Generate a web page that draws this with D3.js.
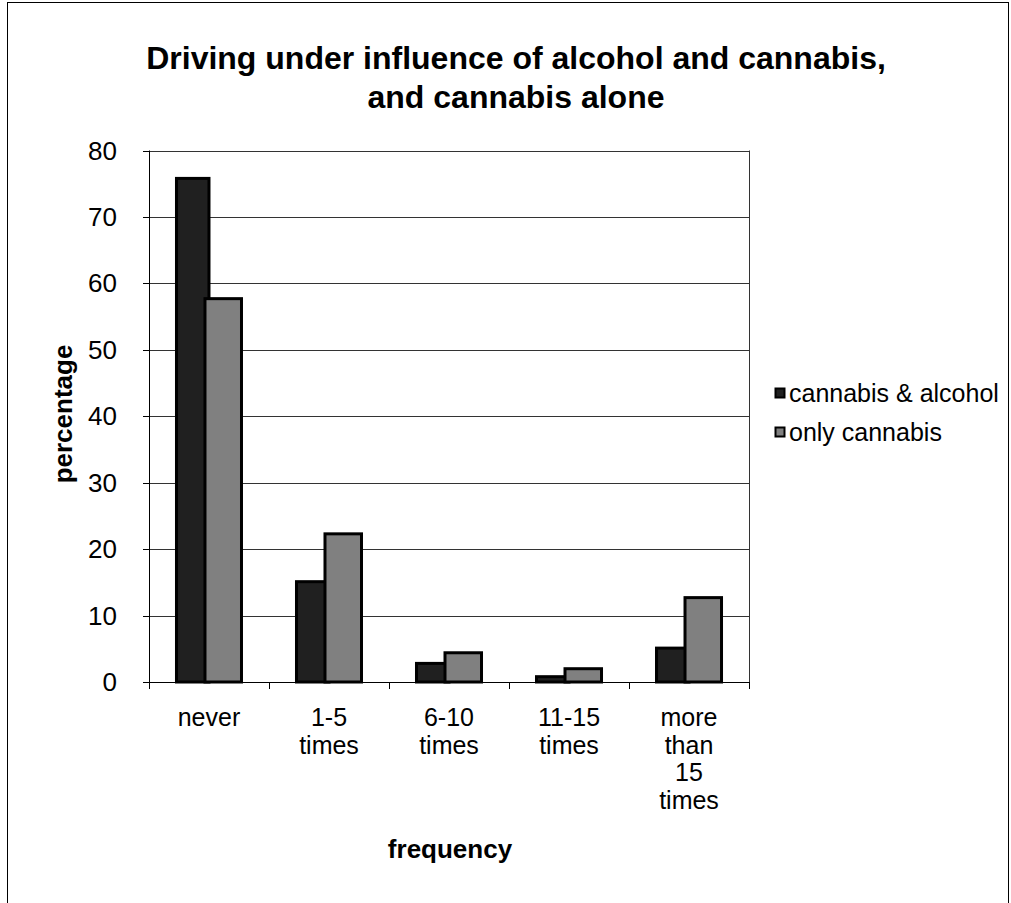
<!DOCTYPE html>
<html>
<head>
<meta charset="utf-8">
<script src="https://cdn.jsdelivr.net/npm/d3@7"></script>
<style>
  html, body { margin: 0; padding: 0; background: #fff; }
  svg { display: block; font-family: "Liberation Sans", Arial, sans-serif; }
</style>
</head>
<body>
<svg id="chart" width="1011" height="903"></svg>
<script>
// Survey data: how often respondents drove under the influence
const categories = ["never", "1-5 times", "6-10 times", "11-15 times", "more than 15 times"];
const categoryLines = [["never"], ["1-5", "times"], ["6-10", "times"], ["11-15", "times"], ["more", "than", "15", "times"]];
const seriesNames = ["cannabis & alcohol", "only cannabis"];
const cannabisAlcohol = [75.8, 15.1, 2.8, 0.8, 5.1];
const onlyCannabis = [57.7, 22.3, 4.4, 2.0, 12.7];
const seriesColors = ["#202020", "#808080"];
const yTicks = [0, 10, 20, 30, 40, 50, 60, 70, 80];

const svg = d3.select("#chart");
const plot = { left: 149, right: 749, top: 150.5, bottom: 682 };

// outer frame
svg.append("rect")
  .attr("x", 7.5).attr("y", 2.5).attr("width", 1001).attr("height", 910)
  .attr("fill", "none").attr("stroke", "#000").attr("stroke-width", 1);

const x0 = d3.scaleBand()
  .domain(categories)
  .range([plot.left, plot.right])
  .paddingInner(0.4583)
  .paddingOuter(0.229);

const x1 = d3.scaleBand()
  .domain(seriesNames)
  .range([0, x0.bandwidth()]);

const y = d3.scaleLinear().domain([0, 80]).range([plot.bottom, plot.top]);

// horizontal gridlines
svg.append("g").selectAll("line")
  .data(yTicks.filter(d => d > 0))
  .join("line")
  .attr("x1", plot.left).attr("x2", plot.right)
  .attr("y1", d => Math.round(y(d)) + 0.5).attr("y2", d => Math.round(y(d)) + 0.5)
  .attr("stroke", "#333").attr("stroke-width", 1);

// right edge of plot area
svg.append("line")
  .attr("x1", plot.right + 0.5).attr("x2", plot.right + 0.5)
  .attr("y1", y(80)).attr("y2", y(0))
  .attr("stroke", "#333");

// bars
const rows = categories.map((c, i) => ({ cat: c, values: [cannabisAlcohol[i], onlyCannabis[i]] }));
const overlap = 4;
const groups = svg.append("g").selectAll("g")
  .data(rows)
  .join("g")
  .attr("transform", d => `translate(${x0(d.cat)},0)`);

groups.selectAll("rect")
  .data(d => d.values.map((v, k) => ({ series: seriesNames[k], k, v })))
  .join("rect")
  .attr("x", d => x1(d.series) - (d.k === 1 ? overlap : 0))
  .attr("width", d => x1.bandwidth() + (d.k === 1 ? overlap : 0))
  .attr("y", d => y(d.v))
  .attr("height", d => y(0) - y(d.v))
  .attr("fill", d => seriesColors[d.k])
  .attr("stroke", "#000")
  .attr("stroke-width", 3);

// y axis
const yAxis = svg.append("g");
yAxis.append("line")
  .attr("x1", plot.left + 0.5).attr("x2", plot.left + 0.5)
  .attr("y1", y(80)).attr("y2", y(0))
  .attr("stroke", "#000");
yAxis.selectAll("line.tick")
  .data(yTicks)
  .join("line").attr("class", "tick")
  .attr("x1", plot.left - 6).attr("x2", plot.left)
  .attr("y1", d => Math.round(y(d)) + 0.5).attr("y2", d => Math.round(y(d)) + 0.5)
  .attr("stroke", "#000");
yAxis.selectAll("text")
  .data(yTicks)
  .join("text")
  .attr("x", 117).attr("y", d => y(d))
  .attr("dy", "0.35em")
  .attr("text-anchor", "end")
  .attr("font-size", 26)
  .text(d => d);

// x axis
const xAxis = svg.append("g");
xAxis.append("line")
  .attr("x1", plot.left).attr("x2", plot.right + 1)
  .attr("y1", Math.round(y(0)) + 0.5).attr("y2", Math.round(y(0)) + 0.5)
  .attr("stroke", "#000");
const boundaries = categories.map(c => x0(c) - x0.step() * x0.paddingInner() / 2).concat([plot.right]);
boundaries[0] = plot.left;
xAxis.selectAll("line.tick")
  .data(boundaries)
  .join("line").attr("class", "tick")
  .attr("x1", d => Math.round(d) + 0.5).attr("x2", d => Math.round(d) + 0.5)
  .attr("y1", y(0)).attr("y2", y(0) + 7)
  .attr("stroke", "#000");

const catLabels = xAxis.selectAll("text")
  .data(categories)
  .join("text")
  .attr("text-anchor", "middle")
  .attr("font-size", 25)
  .attr("x", d => x0(d) + x0.bandwidth() / 2)
  .attr("y", 726);
catLabels.selectAll("tspan")
  .data((d, i) => categoryLines[i])
  .join("tspan")
  .attr("x", function () { return d3.select(this.parentNode).attr("x"); })
  .attr("dy", (d, j) => j === 0 ? 0 : 27.7)
  .text(d => d);

// titles
const title = svg.append("text")
  .attr("text-anchor", "middle")
  .attr("font-size", 32)
  .attr("font-weight", "bold");
title.append("tspan").attr("x", 516).attr("y", 69).text("Driving under influence of alcohol and cannabis,");
title.append("tspan").attr("x", 516).attr("y", 108).text("and cannabis alone");

svg.append("text")
  .attr("transform", "translate(72,414) rotate(-90)")
  .attr("text-anchor", "middle")
  .attr("font-size", 26)
  .attr("font-weight", "bold")
  .text("percentage");

svg.append("text")
  .attr("x", 450).attr("y", 858)
  .attr("text-anchor", "middle")
  .attr("font-size", 26)
  .attr("font-weight", "bold")
  .text("frequency");

// legend
const legend = svg.append("g").selectAll("g")
  .data(seriesNames)
  .join("g")
  .attr("transform", (d, i) => `translate(775,${388 + i * 39})`);
legend.append("rect")
  .attr("x", 0.5).attr("y", 0.5).attr("width", 9).attr("height", 9)
  .attr("fill", (d, i) => seriesColors[i])
  .attr("stroke", "#000").attr("stroke-width", 2);
legend.append("text")
  .attr("x", 14).attr("y", 5).attr("dy", "0.35em")
  .attr("font-size", 25)
  .text(d => d);
</script>
</body>
</html>
